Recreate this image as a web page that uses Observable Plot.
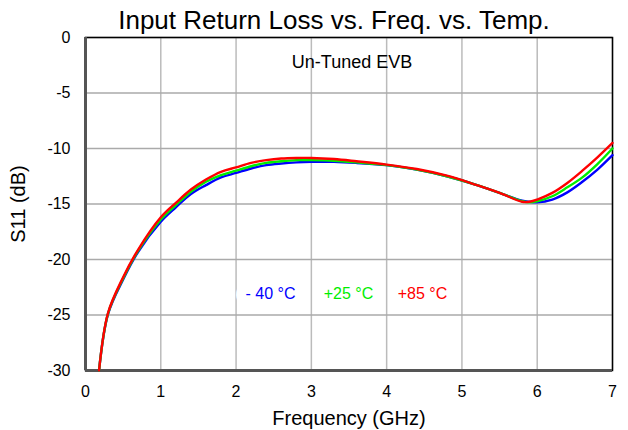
<!DOCTYPE html>
<html><head><meta charset="utf-8">
<script src="https://cdn.jsdelivr.net/npm/d3@7"></script>
<script src="https://cdn.jsdelivr.net/npm/@observablehq/plot@0.6"></script>
<style>
body{margin:0;background:#fff;font-family:"Liberation Sans",Arial,sans-serif;}
#title{width:628px;height:30px;text-align:center;font-size:26px;line-height:30px;box-sizing:border-box;color:#000;padding-left:40px;padding-top:5px;white-space:nowrap}
</style></head><body>
<div id="title">Input Return Loss vs. Freq. vs. Temp.</div>
<div id="chart"></div>
<script>
const freq   = [0.18,0.3,0.5,0.7,1.0,1.2,1.4,1.6,1.8,2.0,2.2,2.4,2.6,2.8,3.0,3.3,3.6,4.0,4.4,4.8,5.2,5.5,5.8,5.9,6.0,6.2,6.4,6.6,6.8,7.0];
const sM40   = [-30,-24.9,-21.8,-19.3,-16.6,-15.3,-14.1,-13.3,-12.6,-12.2,-11.8,-11.5,-11.35,-11.25,-11.2,-11.2,-11.3,-11.5,-11.9,-12.5,-13.3,-14.0,-14.7,-14.8,-14.85,-14.6,-13.95,-13.0,-11.9,-10.6];
const sP25   = [-30,-24.85,-21.7,-19.2,-16.4,-15.1,-13.9,-13.0,-12.4,-12.0,-11.6,-11.3,-11.15,-11.05,-11.05,-11.1,-11.25,-11.5,-11.9,-12.5,-13.3,-14.0,-14.75,-14.85,-14.75,-14.3,-13.5,-12.6,-11.4,-10.0];
const sP85   = [-30,-24.8,-21.6,-19.1,-16.2,-14.9,-13.7,-12.8,-12.1,-11.7,-11.3,-11.05,-10.9,-10.85,-10.85,-10.95,-11.15,-11.45,-11.85,-12.45,-13.3,-14.0,-14.8,-14.8,-14.6,-14.0,-13.1,-12.0,-10.8,-9.5];
const seriesNames = ["- 40 °C","+25 °C","+85 °C"];
const seriesColors = ["#0000ff","#00ee00","#ff0000"];
const xTicks = [0,1,2,3,4,5,6,7];
const yTicks = [0,-5,-10,-15,-20,-25,-30];
const note = "Un-Tuned EVB";

const allSeries = [sM40, sP25, sP85];
const rows = [];
allSeries.forEach((s,i)=> s.forEach((v,j)=> rows.push({f:freq[j], s11:v, name:seriesNames[i]})));

const legendDx = [185, 263, 337];
const legendMarks = [];
seriesNames.forEach((n,i)=>{
  legendMarks.push(Plot.text([n],{frameAnchor:"top-left", dx:legendDx[i], dy:250, text:d=>d, fill:"white", stroke:"white", strokeWidth:20, strokeLinejoin:"round", fontSize:16, textAnchor:"middle"}));
});
seriesNames.forEach((n,i)=>{
  legendMarks.push(Plot.text([n],{frameAnchor:"top-left", dx:legendDx[i], dy:250, text:d=>d, fill:seriesColors[i], fontSize:16, textAnchor:"middle"}));
});

const plot = Plot.plot({
  width:628, height:400,
  marginLeft:85, marginRight:16, marginTop:7, marginBottom:60,
  style:{fontFamily:"'Liberation Sans', Arial, sans-serif", fontSize:"16px", color:"#000", background:"#fff"},
  x:{domain:[0,7], ticks:xTicks, tickSize:0, tickPadding:15, tickFormat:d=>String(d), label:"Frequency (GHz)", labelAnchor:"center", labelOffset:54, labelArrow:"none"},
  y:{domain:[-30,0], ticks:yTicks, tickSize:0, tickPadding:15, tickFormat:d=>String(d), label:"S11 (dB)", labelAnchor:"center", labelOffset:75, labelArrow:"none"},
  color:{domain:seriesNames, range:seriesColors},
  marks:[
    Plot.gridX(xTicks,{stroke:"#bbbbbb", strokeOpacity:1, strokeWidth:1.5}),
    Plot.gridY(yTicks,{stroke:"#aaaaaa", strokeOpacity:1, strokeWidth:1.5}),
    Plot.frame({stroke:"#000", strokeWidth:1.5}),
    Plot.ruleX([0],{stroke:"#555", strokeWidth:3}),
    Plot.ruleY([-30],{stroke:"#555", strokeWidth:3}),
    ...legendMarks.slice(0,3),
    Plot.line(rows,{x:"f", y:"s11", z:"name", stroke:"name", strokeWidth:2.4, curve:"catmull-rom"}),
    ...legendMarks.slice(3),
    Plot.text([note],{frameAnchor:"top", dy:18, dx:3, text:d=>d, fontSize:18, fill:"#000"})
  ]
});
plot.querySelectorAll("[aria-label='x-axis label'] text, [aria-label='y-axis label'] text").forEach(t=>t.style.fontSize="20px");
document.getElementById("chart").appendChild(plot);
</script>
</body></html>
